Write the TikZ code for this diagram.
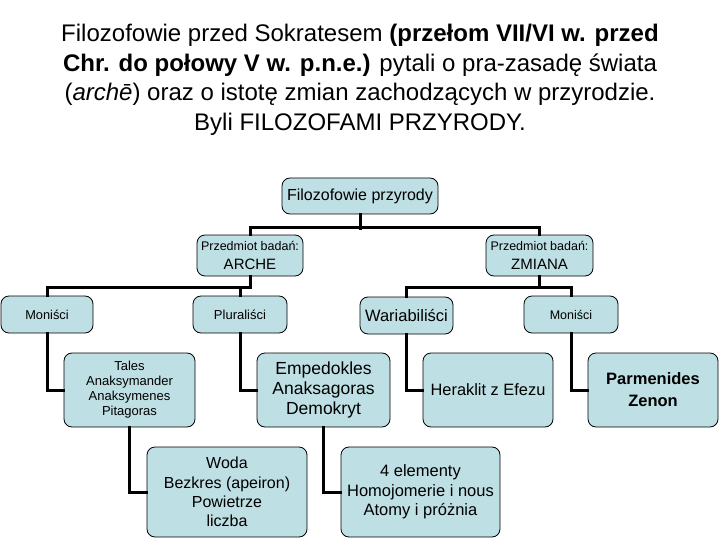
\documentclass[tikz,border=0pt]{standalone}
\usepackage{fontspec}
\setmainfont{Liberation Sans}
\definecolor{boxfill}{HTML}{BEDFE3}
\newcommand{\fsz}[2]{\fontsize{#1}{#2}\selectfont}
\tikzset{
  box/.style={draw=black, line width=0.8pt, fill=boxfill, rounded corners=8pt,
    inner sep=0pt, align=center, anchor=center},
  conn/.style={draw=black, line width=3pt, line cap=rect}
}
\begin{document}
\begin{tikzpicture}[x=1pt,y=-1pt]
\useasboundingbox (0,0) rectangle (720,540);
\node[align=center, font=\fsz{24}{29.5}] (title) at (360,80)
  {Filozofowie przed Sokratesem \textbf{(przełom VII/VI w. przed}\\
   \textbf{Chr. do połowy V w. p.n.e.)} pytali o pra-zasadę świata\\
   (\textit{archē}) oraz o istotę zmian zachodzących w przyrodzie.\\
   Byli FILOZOFAMI PRZYRODY.};

\node[box, minimum width=156pt, minimum height=36pt, font=\fsz{16}{19}] (top) at (360,196) {Filozofowie przyrody};
\node[box, minimum width=106pt, minimum height=41pt, font=\fsz{12.5}{19}] (arche) at (250,255.5)
  {Przedmiot badań:\\{\fsz{15}{19}ARCHE}};
\node[box, minimum width=107pt, minimum height=41pt, font=\fsz{12.5}{19}] (zmiana) at (539.5,255.5)
  {Przedmiot badań:\\{\fsz{15}{19}ZMIANA}};

\node[box, minimum width=92pt, minimum height=37pt, font=\fsz{12.8}{15}] (mon1) at (47,314.5) {Moniści};
\node[box, minimum width=94pt, minimum height=37pt, font=\fsz{13}{15}] (plur) at (240,314.5) {Pluraliści};
\node[box, minimum width=93pt, minimum height=37pt, font=\fsz{16.5}{19}] (wari) at (406.5,315.5) {Wariabiliści};
\node[box, minimum width=94pt, minimum height=37pt, font=\fsz{12.5}{15}] (mon2) at (571,314.5) {Moniści};

\node[box, minimum width=131pt, minimum height=74pt, font=\fsz{13}{15}] (tales) at (129.5,390)
  {Tales\\Anaksymander\\Anaksymenes\\Pitagoras};
\node[box, minimum width=133pt, minimum height=74pt, font=\fsz{17.5}{20}] (emp) at (323.5,390)
  {Empedokles\\Anaksagoras\\Demokryt};
\node[box, minimum width=130pt, minimum height=74pt, font=\fsz{16.4}{20}] (hera) at (488,390)
  {Heraklit z Efezu};
\node[box, minimum width=130pt, minimum height=74pt, font=\bfseries\fsz{16.5}{22}] (parm) at (653,390)
  {Parmenides\\Zenon};

\node[box, minimum width=160pt, minimum height=90pt, font=\fsz{16}{19.3}] (woda) at (227,492)
  {Woda\\Bezkres (apeiron)\\Powietrze\\liczba};
\node[box, minimum width=159pt, minimum height=90pt, font=\fsz{16.5}{19.3}] (elem) at (420.5,492)
  {4 elementy\\Homojomerie i nous\\Atomy i próżnia};

% connectors
\draw[conn] (top.south) -- ++(0,14);
\draw[conn] (arche.north) -- ++(0,-7) -| (zmiana.north);
\draw[conn] (mon1.north) -- ++(0,-8) -| (arche.south);
\draw[conn] (plur.north) -- ++(0,-8);
\draw[conn] (wari.north) -- ++(0,-9) -| (zmiana.south);
\draw[conn] (mon2.north) -- ++(0,-8) -| (zmiana.south);
\draw[conn] (mon1.south) |- (tales.west);
\draw[conn] (plur.south) |- (emp.west);
\draw[conn] (wari.south) |- (hera.west);
\draw[conn] (mon2.south) |- (parm.west);
\draw[conn] (tales.south) |- (woda.west);
\draw[conn] (emp.south) |- (elem.west);
\end{tikzpicture}
\end{document}
